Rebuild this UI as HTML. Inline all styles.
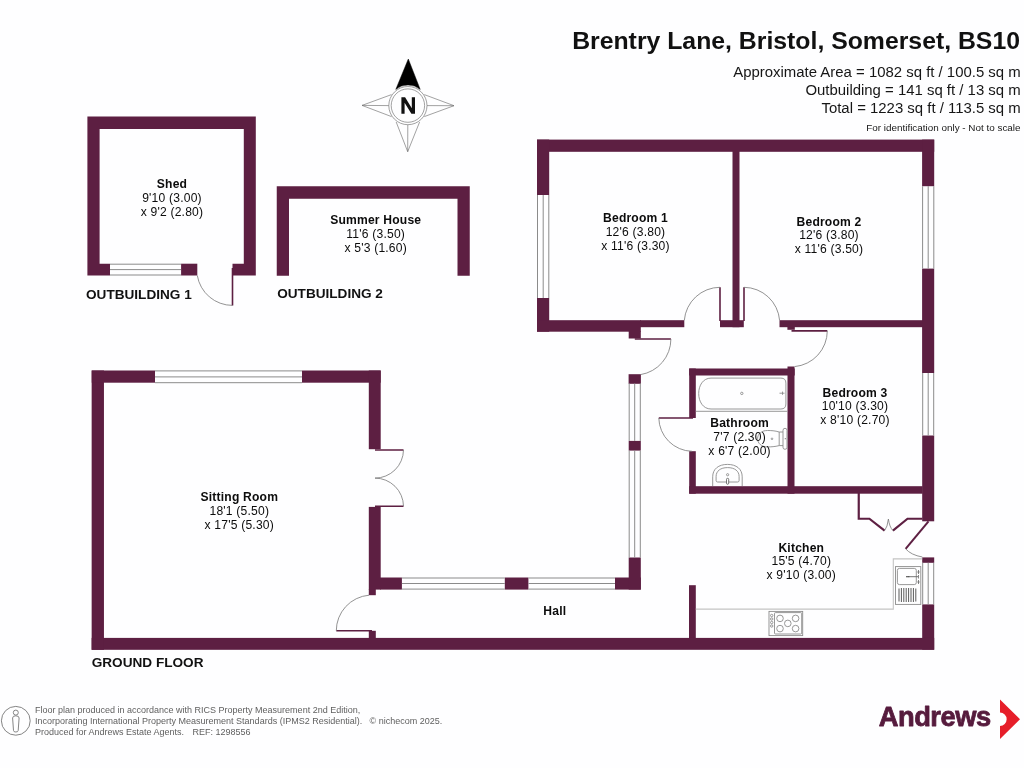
<!DOCTYPE html>
<html>
<head>
<meta charset="utf-8">
<title>Brentry Lane, Bristol, Somerset, BS10</title>
<style>
html,body{margin:0;padding:0;background:#fefeff;}
body{width:1024px;height:768px;overflow:hidden;position:relative;font-family:"Liberation Sans",sans-serif;}
svg{position:absolute;left:0;top:0;display:block;}
text{font-family:"Liberation Sans",sans-serif;}
svg{will-change:transform;}
#header,#labels,#ftext{filter:grayscale(1);}
.w{fill:#5d1f42;}
.b{font-weight:bold;}
.lbl text{font-size:12.1px;letter-spacing:0.2px;text-anchor:middle;fill:#0c0c0c;}
.win{stroke:#858585;stroke-width:0.95;fill:none;}
.thin{stroke:#777;stroke-width:0.8;fill:none;}
.leaf{stroke:#5d1f42;stroke-width:1.6;fill:none;}
.fix{stroke:#8c8c8c;stroke-width:0.9;fill:none;}
</style>
</head>
<body>
<svg width="1024" height="768" viewBox="0 0 1024 768">
<rect x="0" y="0" width="1024" height="768" fill="#fefeff"/>

<!-- ================= HEADER TEXT ================= -->
<g id="header" fill="#111">
<text class="b" x="1020" y="48.7" font-size="24.8" text-anchor="end">Brentry Lane, Bristol, Somerset, BS10</text>
<text x="1020.7" y="77" font-size="14.93" text-anchor="end" fill="#161616">Approximate Area = 1082 sq ft / 100.5 sq m</text>
<text x="1020.7" y="95" font-size="14.93" text-anchor="end" fill="#161616">Outbuilding = 141 sq ft / 13 sq m</text>
<text x="1020.7" y="113" font-size="14.93" text-anchor="end" fill="#161616">Total = 1223 sq ft / 113.5 sq m</text>
<text x="1020.5" y="130.5" font-size="9.9" text-anchor="end" fill="#161616">For identification only - Not to scale</text>
</g>

<!-- ================= COMPASS ================= -->
<g id="compass" stroke="#707070" stroke-width="0.65" fill="none">
<!-- east/west/south kites -->
<path d="M454 105.7 L424.3 94.6 M454 105.7 L424.3 116.6 M454 105.7 L427 105.6"/>
<path d="M362 105.4 L391.5 94.6 M362 105.4 L391.5 116.6 M362 105.4 L389 105.6"/>
<path d="M407.7 151.7 L396.2 122 M407.7 151.7 L419.6 122 M407.7 151.7 L407.8 124.7"/>
<path d="M408.3 59 L395.8 89.4 A19.1 19.1 0 0 1 420.2 89.4 Z" fill="#000" stroke="#000" stroke-width="0.5"/>
<circle cx="407.9" cy="105.6" r="19.1" fill="#fefeff"/>
<circle cx="407.9" cy="105.6" r="16.7"/>
<path d="M401.4 113.8 V97.3 H405.1 L411.8 108.3 V97.3 H415 V113.8 H411.4 L404.6 102.7 V113.8 Z" fill="#111" stroke="none"/>
</g>

<!-- ================= SHED ================= -->
<g id="shed">
<path class="w" d="M87.4 116.4 H255.8 V275.5 H232.5 V263.7 H243.8 V128.9 H99.6 V263.7 H110 V275.5 H87.4 Z"/>
<rect class="w" x="181.1" y="263.7" width="16.2" height="11.8"/>
<path class="win" d="M110 264.2 H181.1 M110 269.6 H181.1 M110 275 H181.1"/>
<path class="leaf" d="M232.5 268 V305.5" />
<path class="thin" d="M197.3 275.5 A35.7 35.7 0 0 0 232.5 305.4"/>
</g>

<!-- ================= SUMMER HOUSE ================= -->
<g id="summer">
<path class="w" d="M276.75 186.25 H469.75 V275.75 H457.5 V198.75 H289 V275.75 H276.75 Z"/>
</g>

<!-- ================= MAIN BUILDING ================= -->
<g id="main">
<!-- top wall -->
<rect class="w" x="537" y="139.6" width="397.2" height="12.2"/>
<!-- left wall bedroom 1 -->
<rect class="w" x="537" y="139.6" width="12.2" height="55.4"/>
<rect class="w" x="537" y="298" width="12.2" height="33.7"/>
<path class="win" d="M537.5 195 V298 M543.2 195 V298 M548.8 195 V298"/>
<!-- bedroom 1 bottom wall -->
<rect class="w" x="537" y="320.2" width="103.8" height="11.5"/>
<rect class="w" x="640" y="320.2" width="44.3" height="7"/>
<rect class="w" x="628.7" y="331" width="12.1" height="7.5"/>
<!-- partition bed1/bed2 -->
<rect class="w" x="732.5" y="151" width="7" height="176.2"/>
<rect class="w" x="720" y="320.2" width="23.8" height="7"/>
<!-- bed2 bottom wall -->
<rect class="w" x="779.5" y="320.2" width="143.5" height="7"/>
<rect class="w" x="787.4" y="327" width="7.4" height="2.8"/>
<!-- right wall -->
<rect class="w" x="922.1" y="139.6" width="12.1" height="46.6"/>
<rect class="w" x="922.1" y="268.6" width="12.1" height="104.4"/>
<rect class="w" x="922.2" y="435.5" width="12" height="85.8"/>
<rect class="w" x="922.2" y="557.4" width="12" height="5.4"/>
<rect class="w" x="922.2" y="604.4" width="12" height="45.3"/>
<path class="win" d="M922.6 186.2 V268.6 M928.2 186.2 V268.6 M933.8 186.2 V268.6"/>
<path class="win" d="M922.7 373 V435.5 M928.2 373 V435.5 M933.7 373 V435.5"/>
<path class="win" d="M922.7 562.8 V604.4 M928.2 562.8 V604.4 M933.7 562.8 V604.4"/>
<!-- bathroom walls -->
<rect class="w" x="689.2" y="368.5" width="105.5" height="7"/>
<rect class="w" x="689.2" y="368.5" width="6.6" height="49.5"/>
<rect class="w" x="689.2" y="451.2" width="6.6" height="42.5"/>
<rect class="w" x="787.5" y="366.5" width="7" height="127.2"/>
<rect class="w" x="689.2" y="486.2" width="233.5" height="7.5"/>
<!-- kitchen stub -->
<rect class="w" x="689" y="585.2" width="6.8" height="53.5"/>
<!-- bottom wall -->
<rect class="w" x="91.65" y="637.9" width="842.55" height="11.9"/>
<!-- sitting room -->
<rect class="w" x="91.65" y="370.5" width="12.3" height="279.3"/>
<rect class="w" x="91.75" y="370.5" width="63.25" height="12.2"/>
<rect class="w" x="302" y="370.5" width="78.7" height="12.2"/>
<path class="win" d="M155 370.9 H302 M155 376.9 H302 M155 382.7 H302"/>
<rect class="w" x="368.8" y="370.5" width="11.9" height="78.7"/>
<rect class="w" x="368.8" y="506.9" width="11.9" height="82.7"/>
<rect class="w" x="368.8" y="589" width="7" height="6.2"/>
<rect class="w" x="368.8" y="630.8" width="7" height="8"/>
<!-- hall top wall -->
<rect class="w" x="380" y="577.5" width="21.9" height="12.1"/>
<rect class="w" x="504.8" y="577.5" width="23.6" height="12.1"/>
<rect class="w" x="615" y="577.5" width="25.8" height="12.1"/>
<path class="win" d="M401.9 578 H504.8 M401.9 583.5 H504.8 M401.9 589.1 H504.8"/>
<path class="win" d="M528.4 578 H615 M528.4 583.5 H615 M528.4 589.1 H615"/>
<!-- hall left wall -->
<rect class="w" x="628.6" y="374.2" width="12.3" height="9.6"/>
<rect class="w" x="628.7" y="440.9" width="12.1" height="9.7"/>
<rect class="w" x="628.7" y="557.5" width="12.1" height="32.1"/>
<path class="win" d="M629.2 383.4 V440.9 M634.7 383.4 V440.9 M640.3 383.4 V440.9"/>
<path class="win" d="M629.2 450.6 V557.5 M634.7 450.6 V557.5 M640.3 450.6 V557.5"/>

<!-- doors -->
<!-- french door sitting room -->
<path class="leaf" d="M375 450 H403.5 M375 506.2 H403.5"/>
<path class="thin" d="M403.5 450 A28.5 28.5 0 0 1 375 478.1 A28.5 28.5 0 0 1 403.5 506.2"/>
<!-- front door -->
<path class="leaf" d="M336.3 630.8 H372"/>
<path class="thin" d="M336.3 630.8 A35.7 35.7 0 0 1 369 595.2"/>
<!-- hall side door -->
<path class="leaf" d="M634.8 339 H670.9"/>
<path class="thin" d="M670.9 339 A36.1 36.1 0 0 1 640.6 374.6"/>
<!-- bed1 door -->
<path class="leaf" d="M720 287.3 V321"/>
<path class="thin" d="M720 287.3 A36 36 0 0 0 684.3 320.4"/>
<!-- bed2 door -->
<path class="leaf" d="M744 287.3 V321"/>
<path class="thin" d="M744 287.3 A36 36 0 0 1 779.6 320.4"/>
<!-- bed3 door -->
<path class="leaf" d="M791.5 330.9 H827.3"/>
<path class="thin" d="M827.3 330.9 A36 36 0 0 1 794.6 366.6"/>
<!-- bathroom door -->
<path class="leaf" d="M658.8 418 H693"/>
<path class="thin" d="M658.8 418 A34 34 0 0 0 692 451.3"/>
<!-- cupboard -->
<path d="M858.75 493 V518.75 H869.4 L884.6 530.6 M892.9 530.6 L907.5 518.75 H922.5" stroke="#5d1f42" stroke-width="2.2" fill="none" stroke-linejoin="miter"/>
<path class="thin" d="M884.6 530.6 Q887.5 527 888.4 519 Q889.5 527 892.9 530.6"/>
<!-- back door -->
<path d="M928.5 521.3 L905.6 548.8" stroke="#5d1f42" stroke-width="2" fill="none"/>
<path class="thin" d="M905.6 548.8 Q911 555 922.3 557"/>
</g>

<!-- ================= FIXTURES ================= -->
<g id="fixtures">
<!-- bath -->
<path class="fix" d="M711 378.1 H780.9 Q785.9 378.1 785.9 383.1 V404 Q785.9 409 780.9 409 H711 C703 409 698.7 401.5 698.7 393.5 C698.7 385.5 703 378.1 711 378.1 Z"/>
<path class="fix" d="M695.8 411.3 H787.5"/>
<circle class="fix" cx="741.8" cy="393.4" r="1.2"/>
<path class="fix" d="M779.5 393.2 H784.5 M782.5 391.6 V394.8"/>
<!-- toilet -->
<path class="fix" d="M779.2 432 C775 430.7 771 430.5 767.5 430.5 C761.5 430.5 757.6 434 757.6 438.7 C757.6 443.4 761.5 446.9 767.5 446.9 C771 446.9 775 446.7 779.2 445.6 Z M779.2 432 H783 M779.2 445.6 H783"/>
<rect class="fix" x="783" y="428.3" width="4" height="21" rx="2"/>
<circle cx="785.3" cy="438.7" r="0.6" fill="#777"/>
<circle class="fix" cx="772" cy="438.8" r="0.8"/>
<!-- basin -->
<path class="fix" d="M712.7 486 V476.8 C712.7 469 718.5 464.4 727.5 464.4 C736.4 464.4 742.2 469 742.2 476.8 V486"/>
<path class="fix" d="M716.1 476.5 C716.1 471 720.5 467.6 727.6 467.6 C734.7 467.6 739.1 471 739.1 476.5 V480.5 Q739.1 482 737.6 482 H717.6 Q716.1 482 716.1 480.5 Z"/>
<circle class="fix" cx="727.6" cy="474.7" r="1.1"/>
<rect x="726.5" y="478.3" width="2.2" height="6" rx="1.1" fill="#fefeff" stroke="#666" stroke-width="0.9"/>
<!-- worktop -->
<path d="M695.8 609.1 H893.3 V558.9 H922.2" stroke="#c4c4c4" stroke-width="1.1" fill="none"/>
<!-- hob -->
<rect class="fix" x="769" y="611.4" width="33.7" height="24.2"/>
<rect class="fix" x="774.5" y="612.6" width="27.2" height="21.4" rx="1"/>
<circle class="fix" cx="780" cy="618.4" r="3.3"/>
<circle class="fix" cx="795.6" cy="618.4" r="3.3"/>
<circle class="fix" cx="787.8" cy="623.4" r="3.3"/>
<circle class="fix" cx="780" cy="628.6" r="3.3"/>
<circle class="fix" cx="795.6" cy="628.6" r="3.3"/>
<circle class="fix" cx="771.7" cy="615.5" r="1.2"/>
<circle class="fix" cx="771.7" cy="619" r="1.2"/>
<circle class="fix" cx="771.7" cy="622.5" r="1.2"/>
<circle class="fix" cx="771.7" cy="626" r="1.2"/>
<!-- sink -->
<rect class="fix" x="895.5" y="566.6" width="25.3" height="37.8"/>
<rect class="fix" x="897.4" y="568.4" width="18.9" height="16.2" rx="2"/>
<path d="M899 588.5 V601.5 M901.4 588 V602 M903.8 588 V602 M906.2 588 V602 M908.6 588 V602 M911 588 V602 M913.4 588 V602 M915.8 588.5 V601.5" stroke="#5a5a5a" stroke-width="1" fill="none"/>
<path d="M906.5 576.7 H918" stroke="#666" stroke-width="0.9" fill="none"/>
<path d="M906.3 576.7 h1.2 M908.3 576.7 h1" stroke="#444" stroke-width="1.3"/>
<path d="M918.5 570 v4 M918.5 575 v3.5 M918.5 580 v4 M917.3 572 h2.4 M917.3 582 h2.4" stroke="#666" stroke-width="0.8" fill="none"/>
</g>

<!-- ================= LABELS ================= -->
<g id="labels" class="lbl">
<text class="b" x="172" y="187.9">Shed</text>
<text x="172" y="202.0">9'10 (3.00)</text>
<text x="172" y="215.8">x 9'2 (2.80)</text>
<text class="b" x="375.7" y="224.0">Summer House</text>
<text x="375.7" y="237.8">11'6 (3.50)</text>
<text x="375.7" y="251.6">x 5'3 (1.60)</text>
<text class="b" x="635.5" y="222.30">Bedroom 1</text>
<text x="635.5" y="236.05">12'6 (3.80)</text>
<text x="635.5" y="249.80">x 11'6 (3.30)</text>
<text class="b" x="829" y="225.50">Bedroom 2</text>
<text x="829" y="239.25">12'6 (3.80)</text>
<text x="829" y="253.00">x 11'6 (3.50)</text>
<text class="b" x="855" y="396.50">Bedroom 3</text>
<text x="855" y="410.25">10'10 (3.30)</text>
<text x="855" y="424.00">x 8'10 (2.70)</text>
<text class="b" x="739.6" y="427.2">Bathroom</text>
<text x="739.6" y="441">7'7 (2.30)</text>
<text x="739.6" y="454.8">x 6'7 (2.00)</text>
<text class="b" x="801.3" y="551.9">Kitchen</text>
<text x="801.3" y="565.05">15'5 (4.70)</text>
<text x="801.3" y="578.80">x 9'10 (3.00)</text>
<text class="b" x="239.3" y="500.8">Sitting Room</text>
<text x="239.3" y="514.6">18'1 (5.50)</text>
<text x="239.3" y="528.5">x 17'5 (5.30)</text>
<text class="b" x="554.8" y="615.00">Hall</text>
<text class="b" x="86" y="298.8" style="font-size:13.6px;letter-spacing:0;text-anchor:start;fill:#111">OUTBUILDING 1</text>
<text class="b" x="277.2" y="298" style="font-size:13.6px;letter-spacing:0;text-anchor:start;fill:#111">OUTBUILDING 2</text>
<text class="b" x="91.7" y="667" style="font-size:13.6px;letter-spacing:0;text-anchor:start;fill:#111">GROUND FLOOR</text>
</g>

<!-- ================= FOOTER ================= -->
<g id="footer">
<circle cx="15.8" cy="720.8" r="14.4" fill="none" stroke="#777" stroke-width="0.9"/>
<circle cx="15.8" cy="712.6" r="2.5" fill="none" stroke="#777" stroke-width="0.9"/>
<path d="M12.6 718 Q12.6 715.8 15.8 715.8 Q19.1 715.8 19.1 718 L18.2 730.5 Q18 732 15.8 732 Q13.6 732 13.5 730.5 Z" fill="none" stroke="#777" stroke-width="0.9"/>
<g id="ftext" font-size="9" fill="#5f5f5f">
<text x="35" y="713">Floor plan produced in accordance with RICS Property Measurement 2nd Edition,</text>
<text x="35" y="724.2">Incorporating International Property Measurement Standards (IPMS2 Residential).</text>
<text x="369.5" y="724.2">© nichecom 2025.</text>
<text x="35" y="735">Produced for Andrews Estate Agents.</text>
<text x="192.5" y="735">REF: 1298556</text>
</g>
<text class="b" x="878.7" y="725.6" font-size="27.3" fill="#561b3d" stroke="#561b3d" stroke-width="0.8" stroke-linejoin="round" textLength="112.4" lengthAdjust="spacing">Andrews</text>
<path d="M1000 699.6 L1020 719.2 L1000 739 V725.9 A6.6 6.6 0 0 0 1000 712.6 Z" fill="#e61e2a"/>
</g>
</svg>
</body>
</html>
